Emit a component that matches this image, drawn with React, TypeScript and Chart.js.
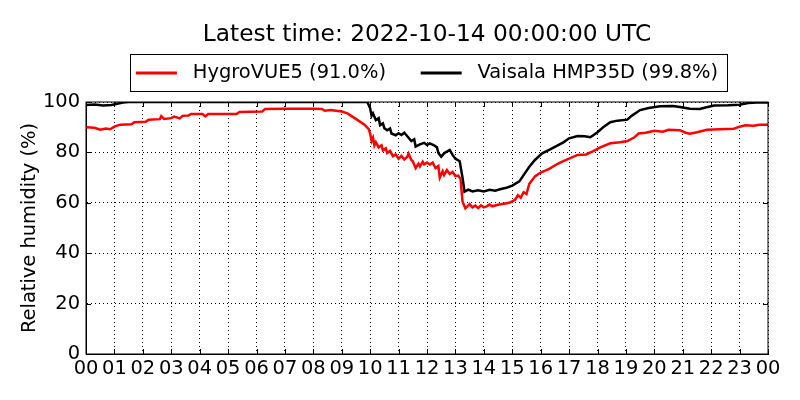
import { useRef, useEffect } from "react";
import { Chart, registerables } from "chart.js";

Chart.register(...registerables);

// hours since 00 UTC and relative humidity (%)
const hygroHours = [
  0, 0.3, 0.5, 0.7, 0.85, 1.0, 1.2, 1.6, 1.7, 2.1, 2.2, 2.6, 2.65, 2.75, 3.0, 3.1, 3.3, 3.4, 3.6, 3.7,
  4.1, 4.2, 4.3, 5.3, 5.4, 6.2, 6.3, 7.0, 8.0, 8.3, 8.4, 8.6, 8.8, 9.0, 9.2, 9.4, 9.6, 9.8, 9.95,
  10.0, 10.05, 10.1, 10.15, 10.2, 10.3, 10.4, 10.45, 10.55, 10.6, 10.7, 10.8, 10.9, 11.0, 11.1, 11.2,
  11.3, 11.35, 11.45, 11.5, 11.6, 11.7, 11.75, 11.85, 11.9, 12.0, 12.1, 12.2, 12.3, 12.4,
  12.45, 12.55, 12.6, 12.7, 12.8, 12.9, 13.0, 13.1, 13.18, 13.25, 13.35, 13.5, 13.6, 13.7, 13.8, 13.9,
  14.0, 14.1, 14.2, 14.3, 14.5, 14.7, 14.9, 15.0, 15.1, 15.2, 15.3, 15.4, 15.5, 15.6, 15.8, 16.0,
  16.3, 16.6, 16.8, 17.0, 17.3, 17.6, 17.85, 18.1, 18.45, 18.8, 19.05, 19.3, 19.45, 19.7, 20.0,
  20.3, 20.5, 20.9, 21.1, 21.25, 21.5, 21.85, 22.3, 22.8, 23.0, 23.2, 23.5, 23.7, 24.0,
];
const hygroRH = [
  90.0, 89.8, 89.0, 89.5, 89.2, 90.2, 91.0, 91.2, 92.0, 92.2, 93.0, 93.2, 94.4, 93.3, 93.6, 94.2, 93.5, 94.5, 94.6, 95.2,
  95.2, 94.3, 95.2, 95.2, 96.0, 96.2, 97.2, 97.3, 97.3, 97.2, 96.5, 96.8, 96.5, 96.2, 95.5, 94.0, 92.5, 91.0, 89.2,
  87.5, 84.5, 85.8, 82.8, 84.0, 82.0, 82.8, 80.8, 81.6, 79.8, 80.6, 78.5, 79.2, 77.5, 78.6, 77.2,
  78.2, 79.5, 77.0, 76.5, 73.8, 75.5, 74.4, 76.3, 75.2, 76.0, 75.2, 76.0, 73.8, 74.6,
  70.0, 72.5, 71.0, 73.0, 71.4, 72.2, 70.6, 70.8, 69.5, 60.5, 57.8, 59.5, 58.2, 58.9, 57.9, 59.0,
  58.2, 58.6, 59.3, 58.6, 59.2, 59.6, 60.0, 60.6, 61.2, 63.0, 62.0, 64.2, 63.5, 67.5, 70.5, 72.0,
  73.5, 75.5, 76.5, 77.5, 79.0, 79.2, 80.5, 82.0, 83.6, 84.0, 84.5, 86.0, 87.5, 87.8, 88.6,
  88.2, 89.0, 88.8, 87.8, 87.4, 88.0, 89.0, 89.2, 89.4, 90.2, 90.8, 90.6, 91.0, 91.0,
];

const vaisalaHours = [
  0, 0.3, 0.6, 0.9, 1.1, 1.3, 1.5, 9.9, 10.0, 10.05, 10.1, 10.2, 10.3, 10.35, 10.45, 10.5, 10.6, 10.7,
  10.75, 10.9, 11.0, 11.1, 11.2, 11.3, 11.45, 11.55, 11.6, 11.75, 11.9, 12.0, 12.1, 12.25, 12.35,
  12.4, 12.5, 12.6, 12.65, 12.8, 12.9, 13.0, 13.15, 13.25, 13.32, 13.45, 13.6, 13.8, 14.0, 14.2,
  14.4, 14.6, 14.8, 15.0, 15.25, 15.4, 15.6, 15.8, 16.05, 16.3, 16.55, 16.8, 17.0, 17.3, 17.55,
  17.75, 18.0, 18.2, 18.45, 18.7, 19.05, 19.2, 19.5, 19.8, 20.2, 20.65, 20.9, 21.25, 21.6, 21.8,
  22.1, 22.6, 23.0, 23.3, 23.6, 24.0,
];
const vaisalaRH = [
  98.8, 99.0, 98.6, 98.8, 99.3, 99.8, 100, 100, 97.5, 94.5, 95.5, 92.8, 93.6, 90.8, 91.5, 89.6, 88.8, 89.5,
  87.5, 86.8, 87.6, 86.9, 87.8, 86.5, 84.5, 85.2, 82.3, 83.2, 83.8, 82.9, 83.6, 82.8, 82.0,
  79.8, 78.3, 79.6, 80.0, 81.0, 79.0, 77.5, 76.5, 70.0, 64.4, 65.2, 64.5, 65.0, 64.5, 65.2,
  64.8, 65.5, 66.0, 66.8, 68.5, 71.0, 74.3, 77.0, 79.6, 81.0, 82.5, 84.0, 85.6, 86.5, 86.4,
  86.0, 88.0, 90.0, 92.0, 92.6, 93.0, 94.5, 96.8, 97.6, 98.3, 98.4, 98.0, 97.3, 97.2, 97.8,
  98.6, 98.7, 98.9, 99.6, 99.8, 99.8,
];

const seriesLabels = ["HygroVUE5 (91.0%)", "Vaisala HMP35D (99.8%)"];
const titleText = "Latest time: 2022-10-14 00:00:00 UTC";

const toPoints = (xs: number[], ys: number[]) => xs.map((x, i) => ({ x, y: ys[i] }));

// frame, inward ticks and the legend border (matplotlib classic look)
const framePlugin = {
  id: "frame",
  afterDraw(chart: any) {
    const { ctx, chartArea: a, scales } = chart;
    ctx.save();
    ctx.strokeStyle = "#000";
    ctx.lineWidth = 1;
    ctx.strokeRect(a.left, a.top, a.right - a.left, a.bottom - a.top);
    ctx.beginPath();
    scales.x.ticks.forEach((t: any) => {
      const px = Math.round(scales.x.getPixelForValue(t.value)) + 0.5;
      ctx.moveTo(px, a.bottom);
      ctx.lineTo(px, a.bottom - 5);
      ctx.moveTo(px, a.top);
      ctx.lineTo(px, a.top + 5);
    });
    scales.y.ticks.forEach((t: any) => {
      const py = Math.round(scales.y.getPixelForValue(t.value)) + 0.5;
      ctx.moveTo(a.left, py);
      ctx.lineTo(a.left + 5, py);
      ctx.moveTo(a.right, py);
      ctx.lineTo(a.right - 5, py);
    });
    ctx.stroke();

    const boxes = chart.legend?.legendHitBoxes;
    if (boxes && boxes.length) {
      const first = boxes[0];
      const last = boxes[boxes.length - 1];
      const left = first.left - 6;
      const right = last.left + last.width + 9;
      const top = first.top - 9;
      const bottom = first.top + first.height + 8.5;
      ctx.strokeRect(Math.round(left) + 0.5, Math.round(top) + 0.5, Math.round(right - left), Math.round(bottom - top));
    }
    ctx.restore();
  },
};

const HumidityChart = () => {
  const chartRef = useRef<HTMLCanvasElement | null>(null);
  const chartInstance = useRef<Chart | null>(null);

  useEffect(() => {
    if (!chartRef.current) return;
    if (chartInstance.current) {
      chartInstance.current.destroy();
    }
    const ctx = chartRef.current.getContext("2d");
    if (!ctx) return;

    Chart.defaults.font.family = "'DejaVu Sans', sans-serif";
    Chart.defaults.color = "#000";

    chartInstance.current = new Chart(ctx, {
      type: "line",
      data: {
        datasets: [
          {
            label: seriesLabels[0],
            data: toPoints(hygroHours, hygroRH),
            borderColor: "#ff0000",
            backgroundColor: "#ff0000",
            borderWidth: 2.5,
            pointRadius: 0,
            tension: 0,
          },
          {
            label: seriesLabels[1],
            data: toPoints(vaisalaHours, vaisalaRH),
            borderColor: "#000000",
            backgroundColor: "#000000",
            borderWidth: 2.5,
            pointRadius: 0,
            tension: 0,
          },
        ],
      },
      options: {
        animation: false,
        responsive: true,
        maintainAspectRatio: false,
        layout: { padding: { left: 0, right: 32, top: 0, bottom: 0 } },
        plugins: {
          title: {
            display: true,
            fullSize: false,
            text: titleText,
            font: { size: 23.3, weight: "normal" },
            color: "#000",
            padding: { top: 21, bottom: 4.3 },
          },
          legend: {
            display: true,
            fullSize: false,
            labels: {
              font: { size: 19.44 },
              color: "#000",
              boxWidth: 41,
              boxHeight: 3,
              padding: 10,
              generateLabels: (chart: any) =>
                chart.data.datasets.map((ds: any, i: number) => ({
                  text: " " + ds.label + (i === 0 ? "    " : ""),
                  fillStyle: ds.borderColor,
                  strokeStyle: ds.borderColor,
                  lineWidth: 0,
                  hidden: false,
                  datasetIndex: i,
                })),
            },
          },
          tooltip: { enabled: false },
        },
        scales: {
          x: {
            type: "linear",
            position: "bottom",
            min: 0,
            max: 24,
            afterFit: (s: any) => {
              s.height = 46;
            },
            ticks: {
              stepSize: 1,
              autoSkip: false,
              maxRotation: 0,
              padding: 3,
              font: { size: 19.44 },
              color: "#000",
              callback: (v: any) => String(Number(v) % 24).padStart(2, "0"),
            },
            grid: { color: "#000", lineWidth: 1, drawTicks: false },
            border: { display: true, color: "#000", dash: [1, 3] },
          },
          spacer: {
            type: "linear",
            position: "top",
            display: true,
            afterFit: (s: any) => {
              s.height = 9.3;
            },
            ticks: { display: false },
            grid: { display: false, drawTicks: false },
            border: { display: false },
          },
          y: {
            type: "linear",
            position: "left",
            min: 0,
            max: 100,
            afterFit: (s: any) => {
              s.width = 86;
            },
            ticks: {
              stepSize: 20,
              padding: 6,
              font: { size: 19.44 },
              color: "#000",
            },
            title: {
              display: true,
              text: "Relative humidity (%)",
              font: { size: 19.44 },
              color: "#000",
              padding: { top: 18, bottom: 0 },
            },
            grid: { color: "#000", lineWidth: 1, drawTicks: false },
            border: { display: true, color: "#000", dash: [1, 3] },
          },
        },
      },
      plugins: [framePlugin],
    } as any);

    return () => {
      if (chartInstance.current) {
        chartInstance.current.destroy();
        chartInstance.current = null;
      }
    };
  }, []);

  return (
    <div style={{ position: "fixed", left: 0, top: 0, width: 800, height: 400, background: "#fff" }}>
      <canvas ref={chartRef} />
    </div>
  );
};

export default function App() {
  return <HumidityChart />;
}
